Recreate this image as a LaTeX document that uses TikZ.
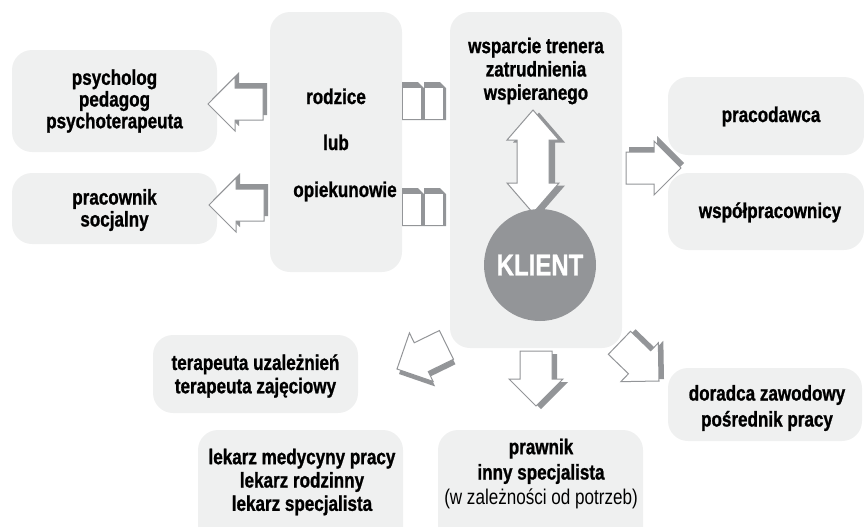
\documentclass[tikz,border=0pt]{standalone}
\usepackage{fontspec}
\setmainfont{Liberation Sans}[FakeStretch=0.8, BoldFeatures={FakeBold=1}]
\definecolor{panelgray}{RGB}{239,240,240}
\definecolor{arrgray}{RGB}{147,149,152}

\tikzset{every picture/.style={line width=0.75pt}}
\tikzset{
  panel/.style={fill=panelgray, rounded corners=15pt},
  boxtext/.style={font=\bfseries\fontsize{16}{17.5}\selectfont, align=center, inner sep=0pt},
  arrside/.style={fill=arrgray},
  arrface/.style={fill=white, draw=arrgray, line width=0.75pt},
  blockarr/.pic={\path[pic actions] (0,0) -- (-27,-27) -- (-27,-16) -- (-55,-16) -- (-55,16) -- (-27,16) -- (-27,27) -- cycle;},
  dblarr/.pic={\path[pic actions] (0,-51.5) -- (26,-21.5) -- (16,-21.5) -- (16,21.5) -- (26,21.5) -- (0,51.5) -- (-26,21.5) -- (-16,21.5) -- (-16,-21.5) -- (-26,-21.5) -- cycle;},
  book/.pic={\path[fill=arrgray] (0,0) -- (16,0) -- (22,-6) -- (22,-38) -- (0,-38) -- cycle; \path[fill=white] (1,-6) rectangle (18.5,-36.5);},
}

\begin{document}
\begin{tikzpicture}[x=0.75pt,y=0.75pt,yscale=-1,xscale=1]
\useasboundingbox (0,0) rectangle (864,526);
\clip (0,0) rectangle (864,526);

%Shape: Rectangle [id:psych]
\fill[panel] (12,50) rectangle (217,152);
%Shape: Rectangle [id:socjal]
\fill[panel] (12,173) rectangle (217,244);
%Shape: Rectangle [id:rodzice]
\fill[panel] (270,12) rectangle (402,272);
%Shape: Rectangle [id:trener]
\fill[panel] (450,12) rectangle (622,348);
%Shape: Rectangle [id:pracodawca]
\fill[panel] (668,77) rectangle (864,155);
%Shape: Rectangle [id:wspol]
\fill[panel] (668,173) rectangle (864,250);
%Shape: Rectangle [id:terap]
\fill[panel] (153,335) rectangle (358,413);
%Shape: Rectangle [id:lekarz]
\fill[panel] (198,430) rectangle (403,560);
%Shape: Rectangle [id:prawnik]
\fill[panel] (438,430) rectangle (643,560);
%Shape: Rectangle [id:doradca]
\fill[panel] (668,368) rectangle (862,441);

%Shape: Books
\pic at (402,82) {book};
\pic at (424,82) {book};
\pic at (402,188) {book};
\pic at (424,188) {book};

%Shape: Block Arrows
\pic[arrside, rotate=180] at (212,99) {blockarr};
\pic[arrface, rotate=180] at (208,104) {blockarr};
\pic[arrside, rotate=180] at (213,200) {blockarr};
\pic[arrface, rotate=180] at (209,205) {blockarr};
\pic[arrside] at (684,163) {blockarr};
\pic[arrface] at (681,168) {blockarr};
\pic[arrside, rotate=-90] at (541,409) {blockarr};
\pic[arrface, rotate=-90] at (536,406) {blockarr};
\pic[arrside, rotate=206] at (399,374) {blockarr};
\pic[arrface, rotate=206] at (397,369) {blockarr};
\pic[arrside, rotate=-44] at (664,379) {blockarr};
\pic[arrface, rotate=-44] at (659,381) {blockarr};
%Shape: Up Down Arrow
\pic[arrside] at (539,164) {dblarr};
\pic[arrface] at (533,161.5) {dblarr};

%Shape: Circle
\draw (540,265) node[circle, fill=arrgray, minimum size=84pt, inner sep=0pt, text=white, font=\bfseries\fontsize{22.5}{24}\selectfont] (klient) {KLIENT};

% Text Node
\draw (114.5,101) node[boxtext] (psych) {psycholog\\[-1.2pt]pedagog\\[-1.2pt]psychoterapeuta};
% Text Node
\draw (114.5,210) node[boxtext] (socjal) {pracownik\\[-1pt]socjalny};
% Text Node
\draw (336,104) node[boxtext, anchor=base] (rodz) {rodzice};
% Text Node
\draw (336,150) node[boxtext, anchor=base] (lub) {lub};
% Text Node
\draw (345,197) node[boxtext, anchor=base] (opiek) {opiekunowie};
% Text Node
\draw (536,71) node[boxtext] (trener) {wsparcie trenera\\zatrudnienia\\wspieranego};
% Text Node
\draw (771,122) node[boxtext, anchor=base] (pracod) {pracodawca};
% Text Node
\draw (770,218) node[boxtext, anchor=base] (wspol) {współpracownicy};
% Text Node
\draw (255.5,376) node[boxtext] (terap) {terapeuta uzależnień\\terapeuta zajęciowy};
% Text Node
\draw (302,482) node[boxtext] (lekarz) {lekarz medycyny pracy\\lekarz rodzinny\\lekarz specjalista};
% Text Node
\draw (541,474) node[boxtext] (prawnik) {prawnik\\[1.5pt]inny specjalista\\[1.5pt]{\mdseries (w zależności od potrzeb)}};
% Text Node
\draw (767,408) node[boxtext] (doradca) {doradca zawodowy\\[2pt]pośrednik pracy};

\end{tikzpicture}
\end{document}
